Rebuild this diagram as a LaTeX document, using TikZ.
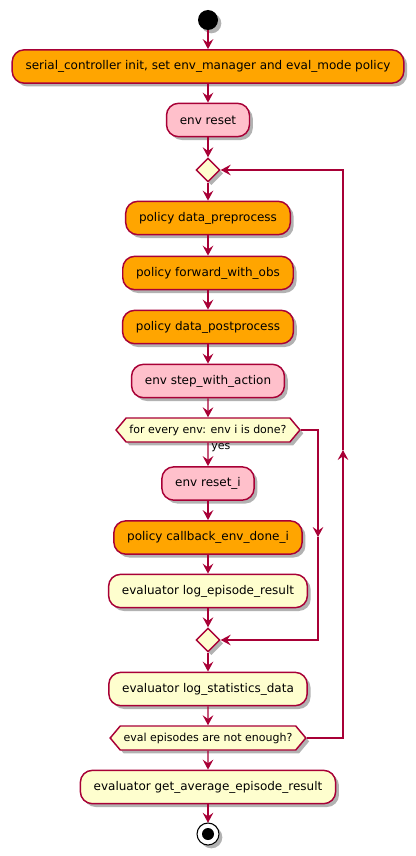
\documentclass[tikz,border=0pt]{standalone}
\usepackage{fontspec}
\setmainfont{DejaVu Sans}
\usetikzlibrary{arrows.meta,shapes.geometric,shapes.symbols,shadows}
\definecolor{bord}{HTML}{A80036}
\definecolor{orangec}{HTML}{FFA500}
\definecolor{pinkc}{HTML}{FFC0CB}
\definecolor{yellc}{HTML}{FEFECE}
\begin{document}
\begin{tikzpicture}[x=0.75pt,y=-0.75pt,
  shad/.style={drop shadow={shadow xshift=2.5pt,shadow yshift=-2.5pt,opacity=0.3,fill=black}},
  act/.style={draw=bord,line width=1.1pt,rounded corners=9pt,minimum height=25pt,
    inner xsep=10pt,inner ysep=0pt,font=\fontsize{9}{11}\selectfont,shad},
  orn/.style={act,fill=orangec},
  pnk/.style={act,fill=pinkc},
  yel/.style={act,fill=yellc},
  dia/.style={diamond,draw=bord,fill=yellc,line width=1.1pt,minimum width=18pt,minimum height=18pt,inner sep=0pt,shad},
  hexa/.style={signal,signal to=east and west,signal pointer angle=100,draw=bord,fill=yellc,
    line width=1.1pt,minimum height=18pt,inner xsep=2.5pt,inner ysep=0pt,
    font=\fontsize{8.25}{10}\selectfont,shad},
  conn/.style={draw=bord,line width=0.85pt,-{Stealth[length=7.5pt,width=8pt,inset=2.8pt]}},
  line/.style={draw=bord,line width=0.85pt}
]
\useasboundingbox (0,0) rectangle (416,856);
\fill[black,shad] (208,20) circle (10);
\node[circle,minimum size=15pt,inner sep=0pt] (s) at (208,20) {};
\node[orn] (a1) at (208,66.5) {serial\_controller init, set env\_manager and eval\_mode policy};
\node[pnk] (a2) at (208,120) {env reset};
\node[dia] (d1) at (208,170) {};
\node[orn] (a3) at (208,218) {policy data\_preprocess};
\node[orn] (a4) at (208,273) {policy forward\_with\_obs};
\node[orn] (a5) at (208,327) {policy data\_postprocess};
\node[pnk] (a6) at (208,381) {env step\_with\_action};
\node[hexa] (h1) at (208,430) {for every env: env i is done?};
\node[anchor=west,inner sep=0pt,font=\fontsize{8.25}{10}\selectfont] (yes) at (211,448) {yes};
\node[pnk] (a7) at (208,483.5) {env reset\_i};
\node[orn] (a8) at (208,537.5) {policy callback\_env\_done\_i};
\node[yel] (a9) at (208,591) {evaluator log\_episode\_result};
\node[dia] (d2) at (208,640) {};
\node[yel] (a10) at (208,689) {evaluator log\_statistics\_data};
\node[hexa] (h2) at (208,738) {eval episodes are not enough?};
\node[yel] (a11) at (208,787) {evaluator get\_average\_episode\_result};
\fill[white,shad] (208,834) circle (11);
\draw[black,line width=0.8pt] (208,834) circle (11);
\fill[black] (208,834) circle (6);
\node[circle,minimum size=16.5pt,inner sep=0pt] (e) at (208,834) {};
\coordinate (c1) at (318,537);
\coordinate (c2) at (343,450);
\draw[conn] (s) -- (a1);
\draw[conn] (a1) -- (a2);
\draw[conn] (a2) -- (d1);
\draw[conn] (d1) -- (a3);
\draw[conn] (a3) -- (a4);
\draw[conn] (a4) -- (a5);
\draw[conn] (a5) -- (a6);
\draw[conn] (a6) -- (h1);
\draw[conn] (h1) -- (a7);
\draw[conn] (a7) -- (a8);
\draw[conn] (a8) -- (a9);
\draw[conn] (a9) -- (d2);
\draw[conn] (h1.east) -| (c1);
\draw[conn] (c1) |- (d2.east);
\draw[conn] (d2) -- (a10);
\draw[conn] (a10) -- (h2);
\draw[conn] (h2) -- (a11);
\draw[conn] (a11) -- (e);
\draw[conn] (h2.east) -| (c2);
\draw[conn] (c2) |- (d1.east);
\end{tikzpicture}
\end{document}
